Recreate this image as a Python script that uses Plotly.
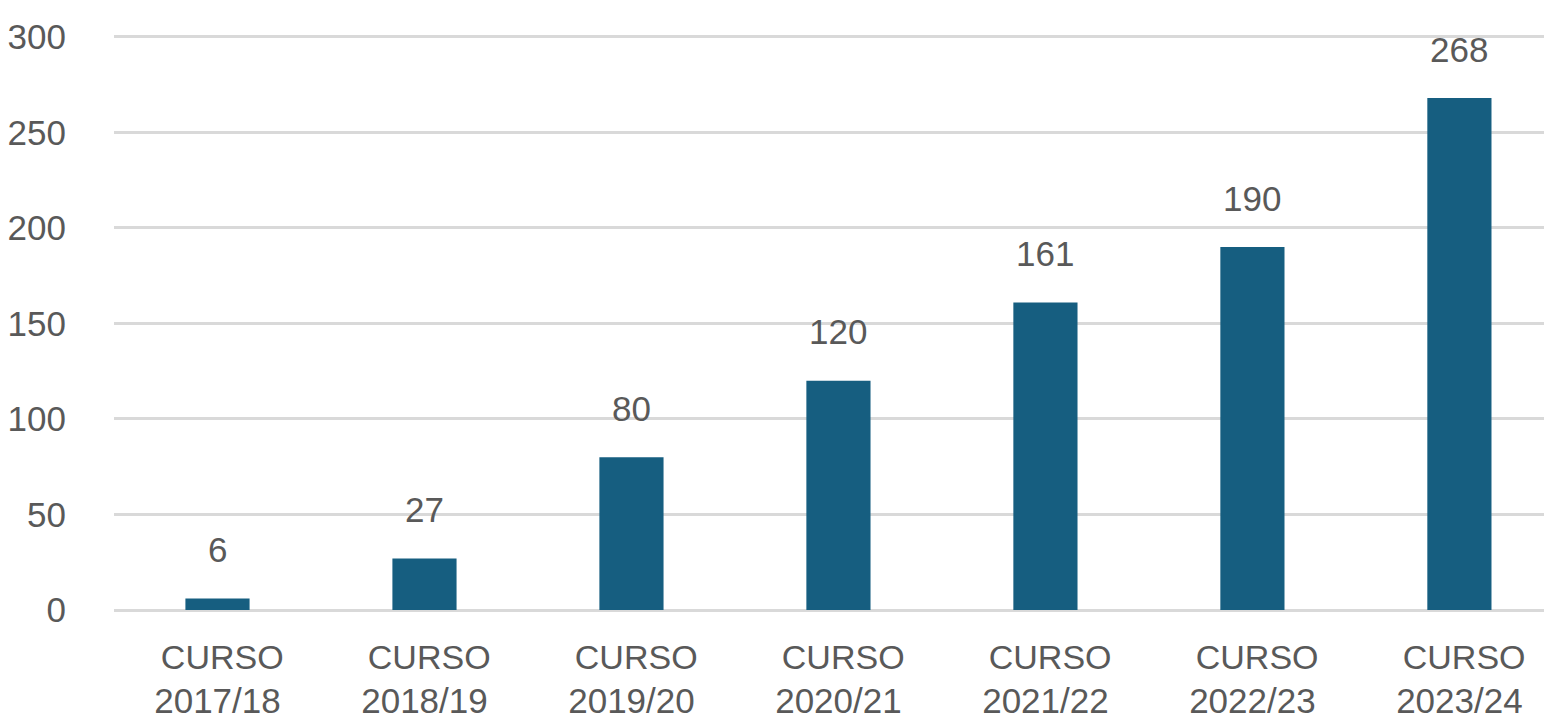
import plotly.graph_objects as go

categorias = ["CURSO 2017/18", "CURSO 2018/19", "CURSO 2019/20", "CURSO 2020/21",
              "CURSO 2021/22", "CURSO 2022/23", "CURSO 2023/24"]
cursos = ["2017/18", "2018/19", "2019/20", "2020/21", "2021/22", "2022/23", "2023/24"]
valores = [6, 27, 80, 120, 161, 190, 268]
y_ticks = [0, 50, 100, 150, 200, 250, 300]

NARROW = "Liberation Sans Narrow, Arial Narrow, Liberation Sans, Arial, sans-serif"
REG = "Liberation Sans, Arial, sans-serif"
GRAY = "#595959"

ticktext = [f"<span style='font-family:{REG};font-size:34px'>\u00a0CURSO</span><br>"
            f"<span style='font-family:{NARROW};font-size:35px'>{c}</span>" for c in cursos]

fig = go.Figure()
fig.add_trace(go.Bar(
    x=categorias, y=valores, width=0.31,
    marker=dict(color="#165E80", line=dict(width=0)),
))

for c, v in zip(categorias, valores):
    fig.add_annotation(x=c, y=v, text=str(v), showarrow=False,
                       yanchor="middle", yshift=49,
                       font=dict(family=NARROW, size=35, color=GRAY))

fig.update_layout(
    width=1552, height=724,
    margin=dict(l=106, r=0, t=27, b=122),
    plot_bgcolor="white", paper_bgcolor="white",
    showlegend=False,
    xaxis=dict(
        tickmode="array", tickvals=categorias, ticktext=ticktext,
        range=[-0.5, 6.486], showgrid=False, showline=False, ticks="",
        tickfont=dict(family=NARROW, size=34, color=GRAY),
        tickangle=0, automargin=False, ticklabelstandoff=24,
    ),
    yaxis=dict(
        range=[0, 301], tickvals=y_ticks, showgrid=True,
        gridcolor="#d9d9d9", gridwidth=3, zeroline=True,
        zerolinecolor="#d9d9d9", zerolinewidth=3,
        tickfont=dict(family=NARROW, size=35, color=GRAY),
        ticks="", ticklabelstandoff=47, automargin=False,
    ),
)

fig.write_html("out.html")
